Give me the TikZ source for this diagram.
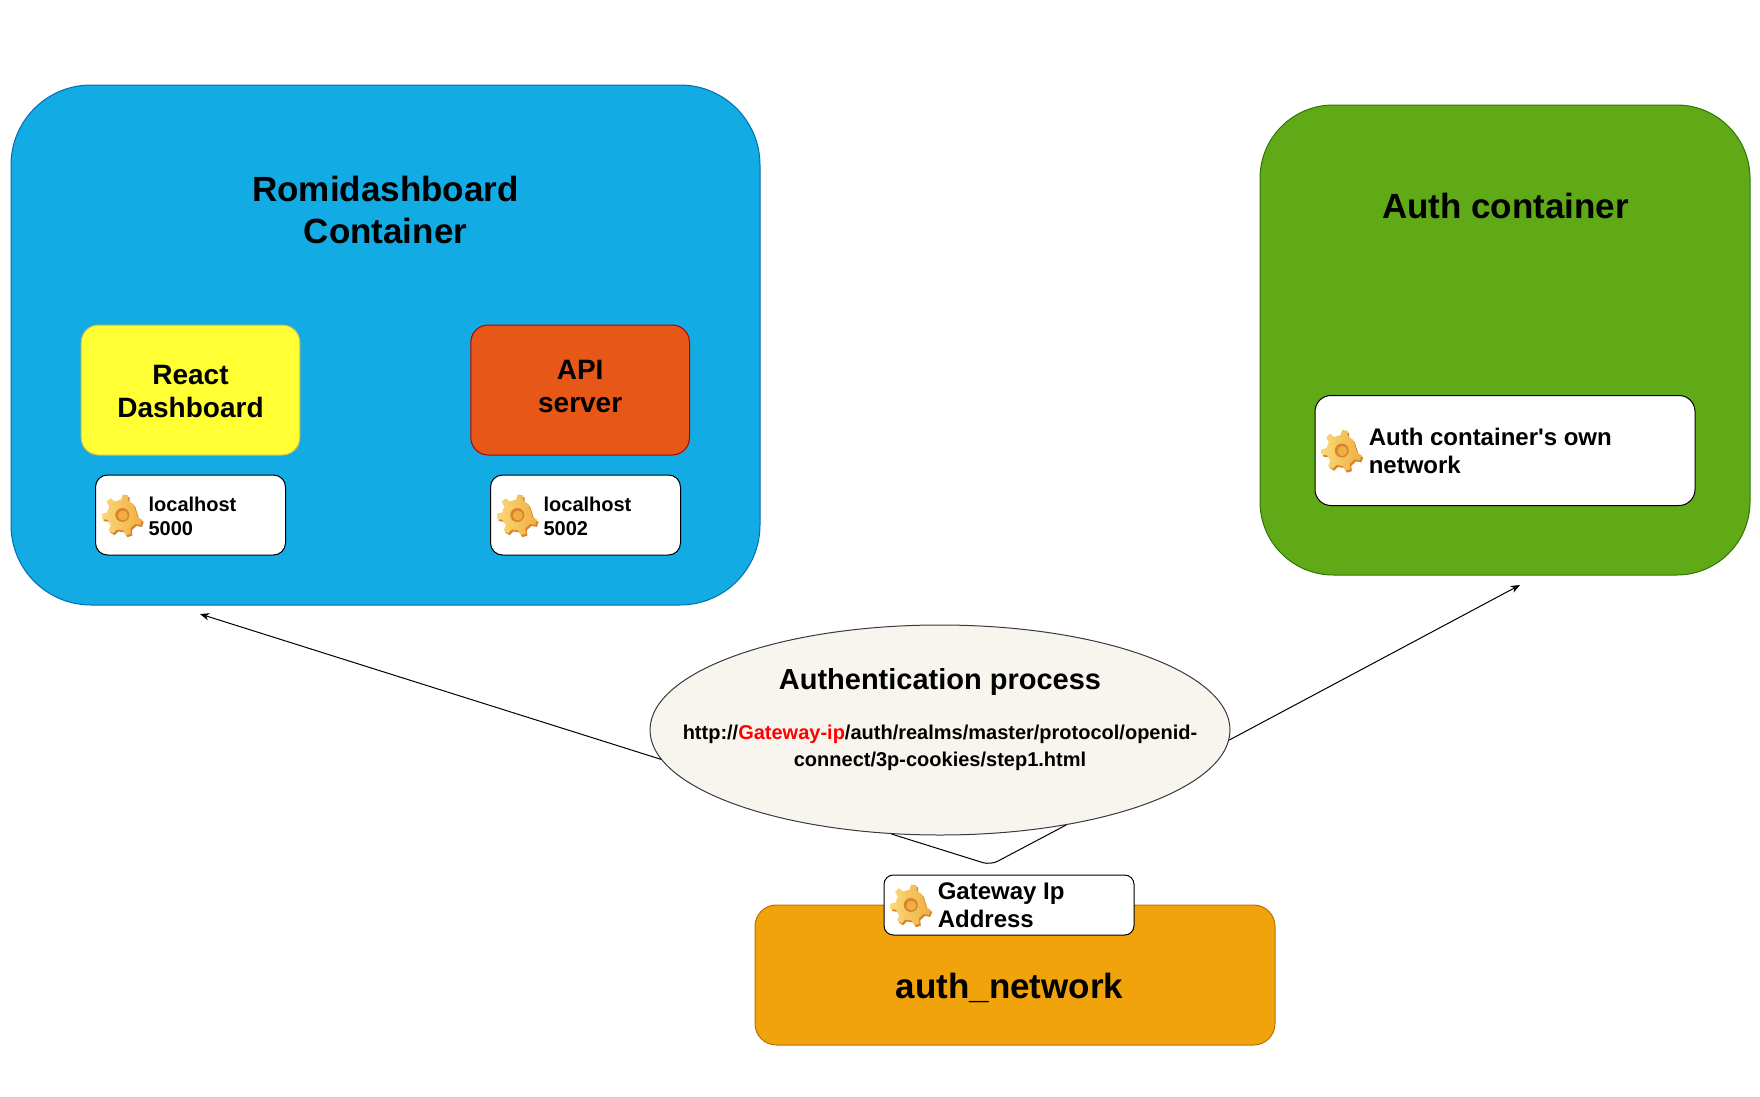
\documentclass[tikz,border=0pt]{standalone}
\usepackage{fontspec}
\setmainfont{Liberation Sans}
\usepackage{xcolor}
\usepackage{tikz}
\usetikzlibrary{
  shapes.geometric,
  arrows.meta,
  positioning,
  shadings
}
\definecolor{dashblue}{HTML}{12ABE3}
\definecolor{dashbluedge}{HTML}{006EAF}
\definecolor{authgreen}{HTML}{60A917}
\definecolor{authgreenedge}{HTML}{2D7600}
\definecolor{reactyellow}{HTML}{FFFF33}
\definecolor{reactedge}{HTML}{D6B656}
\definecolor{apiorange}{HTML}{E65718}
\definecolor{apiedge}{HTML}{B20000}
\definecolor{netorange}{HTML}{F0A30A}
\definecolor{netedge}{HTML}{BD7000}
\definecolor{ellipsefill}{HTML}{F7F5ED}
\definecolor{ellipseedge}{HTML}{36393D}
\definecolor{gearlight}{HTML}{FAD978}
\definecolor{gearmid}{HTML}{EFAE42}
\definecolor{geardark}{HTML}{D9842A}
\tikzstyle{containerbox} = [
  rectangle, rounded corners=60pt, line width=0.75pt
]
\tikzstyle{appbox} = [
  rectangle, rounded corners=13pt, line width=0.75pt,
  minimum width=164pt, minimum height=97.5pt
]
\tikzstyle{portbox} = [
  rectangle, rounded corners=9pt, draw=black, fill=white, line width=0.75pt,
  minimum width=142.5pt, minimum height=60pt
]
\tikzstyle{titletext} = [
  align=center, inner sep=0pt, font=\fontsize{26.25pt}{31pt}\selectfont\bfseries
]
\tikzstyle{apptext} = [
  align=center, inner sep=0pt, font=\fontsize{21pt}{24.75pt}\selectfont\bfseries
]
\tikzstyle{porttext} = [
  align=left, inner sep=0pt, font=\fontsize{15pt}{18pt}\selectfont\bfseries
]
\tikzstyle{nettext} = [
  align=left, inner sep=0pt, font=\fontsize{18pt}{21pt}\selectfont\bfseries
]
\tikzstyle{arrowstyle} = [-{Stealth[length=7pt,width=5.5pt]}, line width=0.75pt]
\tikzset{
  pics/gearicon/.style={code={
    \fill[geardark, shift={(1.5,2)}] (8:15.5)
      \foreach \a in {0,51.43,...,308} { -- (\a+8:15.5) -- (\a+14:20.5) -- (\a+29:20.5) -- (\a+35:15.5) -- (\a+59.43:15.5) } -- cycle;
    \shade[left color=gearlight, right color=gearmid] (8:15.5)
      \foreach \a in {0,51.43,...,308} { -- (\a+8:15.5) -- (\a+14:20.5) -- (\a+29:20.5) -- (\a+35:15.5) -- (\a+59.43:15.5) } -- cycle;
    \fill[geardark] (0,0) circle (7);
    \fill[gearmid] (0.5,0.5) circle (5);
  }}
}

\begin{document}
\begin{tikzpicture}[x=0.75pt, y=-0.75pt]
\useasboundingbox (0,0) rectangle (1760,1096);

% --- Nodes ---
\node[containerbox, fill=dashblue, draw=dashbluedge, minimum width=561.75pt, minimum height=390pt] (dashcontainer) at (385.5,345) {};
\node[containerbox, rounded corners=55pt, fill=authgreen, draw=authgreenedge, minimum width=367.5pt, minimum height=352.5pt] (authcontainer) at (1505,340) {};
\node[titletext] (dashtitle) at (385.5,210) {Romidashboard\\Container};
\node[titletext] (authtitle) at (1505.5,206) {Auth container};

\node[appbox, fill=reactyellow, draw=reactedge] (react) at (190.5,390) {};
\node[appbox, fill=apiorange, draw=apiedge, right=127.5pt of react] (api) {};
\node[apptext, yshift=-0.75pt] (reacttext) at (react) {React\\Dashboard};
\node[apptext, yshift=2.75pt] (apitext) at (api) {API\\server};

\node[portbox] (local1) at (190.5,515) {};
\node[portbox] (local2) at (585.5,515) {};
\node[portbox, minimum width=285pt, minimum height=82.5pt, rounded corners=12pt] (authnet) at (1505,450.5) {};

\node[ellipse, fill=ellipsefill, draw=ellipseedge, line width=0.75pt, minimum width=435pt, minimum height=157.5pt, inner sep=0pt] (authproc) at (940,730) {};
\node[apptext] (authproctitle) at (940,681.5) {\fontsize{21.75pt}{26pt}\selectfont Authentication process};
\node[apptext, font=\fontsize{15pt}{20.25pt}\selectfont\bfseries] (authprocurl) at (940,748)
  {http://\textcolor{red}{Gateway-ip}/auth/realms/master/protocol/openid-\\connect/3p-cookies/step1.html};

\node[rectangle, rounded corners=16pt, fill=netorange, draw=netedge, line width=0.75pt, minimum width=390pt, minimum height=105pt] (authnetwork) at (1015,975) {};
\node[titletext] (authnetworktext) at (1009.5,987.5) {auth\_network};
\node[portbox, minimum width=187.5pt, minimum height=45pt, rounded corners=7pt] (gateway) at (1009,905) {};

% --- Port labels ---
\node[porttext, right=40pt of local1.west, anchor=west, yshift=-0.75pt] (local1text) {localhost\\5000};
\node[porttext, right=40pt of local2.west, anchor=west, yshift=-0.75pt] (local2text) {localhost\\5002};
\node[nettext, right=40.5pt of authnet.west, anchor=west] (authnettext) {Auth container\textquotesingle s own\\network};
\node[nettext, right=40.5pt of gateway.west, anchor=west, yshift=-0.5pt] (gatewaytext) {Gateway Ip\\Address};

\foreach \portname in {local1,local2,authnet,gateway}
  \pic[xshift=20.5pt] at (\portname.west) {gearicon};

% --- Arrows ---
\coordinate (dashend) at (200,614);
\coordinate (authend) at (1520,585);
\coordinate (gwbend) at (990.5,865);
\draw[arrowstyle] (authproc.186.4) -- (dashend);
\draw[arrowstyle] (authproc.358.6) -- (authend);
\draw[line width=0.75pt, rounded corners=6pt] (authproc.245.8) -- (gwbend) -- (authproc.323.1);

\end{tikzpicture}
\end{document}
